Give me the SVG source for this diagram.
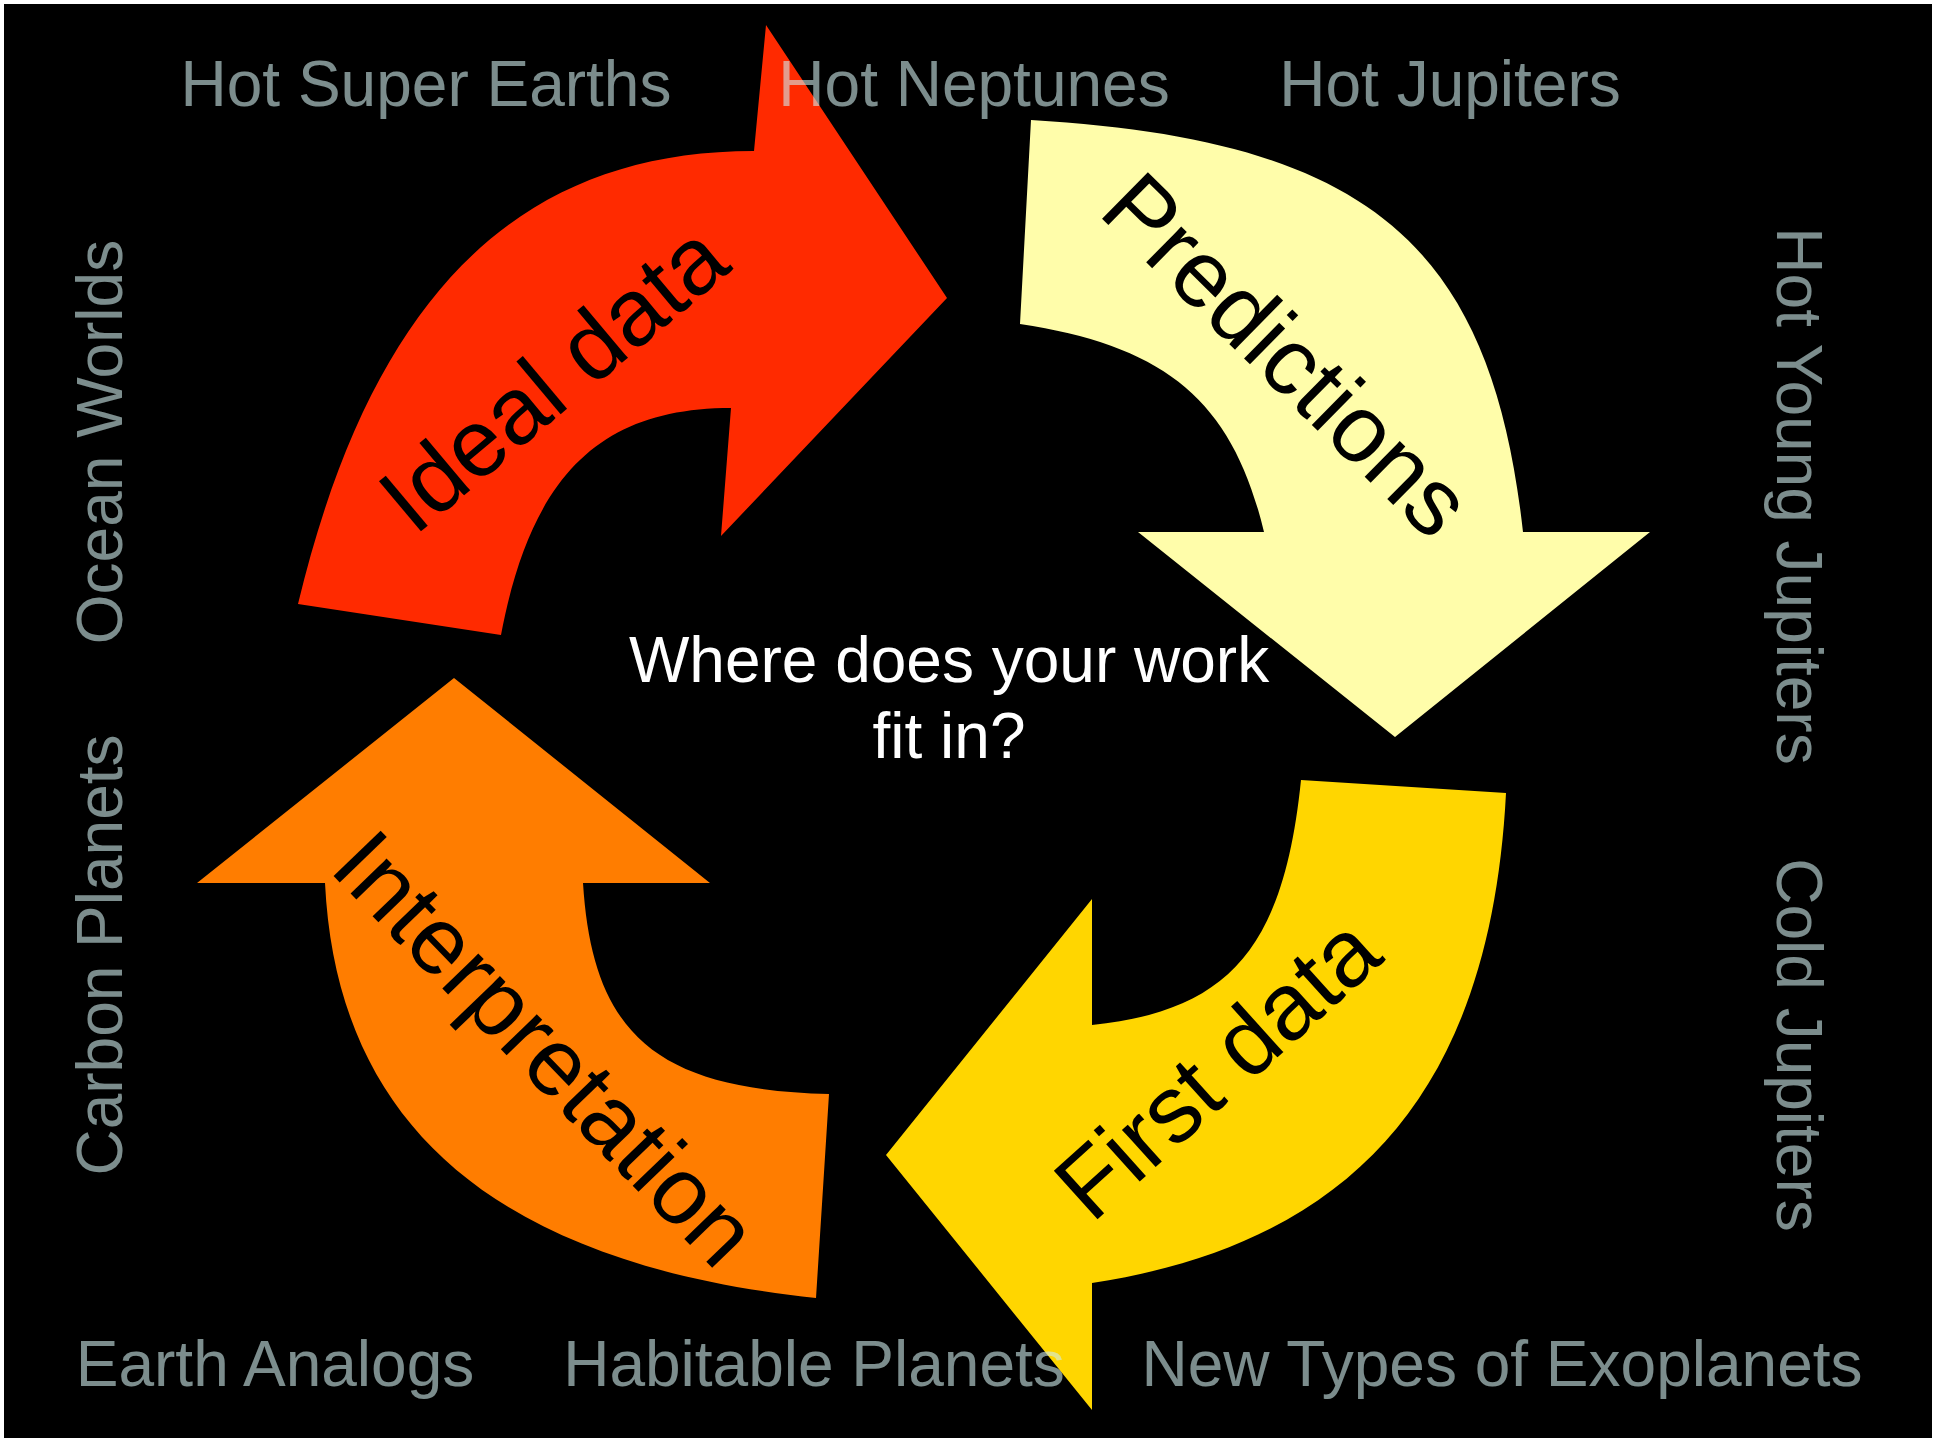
<svg xmlns="http://www.w3.org/2000/svg" width="1936" height="1442" viewBox="0 0 1936 1442">
  <style>
    .side { font-family: "Liberation Sans", Arial, sans-serif; font-size: 64px; fill: #CFEBEB; fill-opacity: 0.6; text-anchor: middle; }
    .center { font-family: "Liberation Sans", Arial, sans-serif; font-size: 64px; fill: #FFFFFF; text-anchor: middle; }
    .lbl { font-family: "Liberation Sans", Arial, sans-serif; font-size: 95px; fill: #000000; text-anchor: middle; }
  </style>
  <rect x="0" y="0" width="1936" height="1442" fill="#FFFFFF"/>
  <rect x="4" y="4" width="1928" height="1434" fill="#000000"/>

  <g id="node-ideal-data">
    <path d="M298,604 C372,296 518,151 754,151 L766,25 L947,298 L721,536 L731,408 C600,408 531,476 501,635 Z" fill="#FF2A00"/>
    <text class="lbl" transform="translate(574,403) rotate(-40)">Ideal data</text>
  </g>

  <g id="node-predictions">
    <path d="M1031,120 C1368,140 1491,243 1523,532 L1650,532 L1395,737 L1138,532 L1264,532 C1233,402 1167,346 1020,324 Z" fill="#FFFDAA"/>
    <text class="lbl" transform="translate(1264,378) rotate(44.5)">Predictions</text>
  </g>

  <g id="node-first-data">
    <path d="M1301,780 L1506,793 C1491,1085 1359,1242 1092,1283 L1092,1410 L886,1155 L1092,899 L1092,1025 C1229,1011 1284,948 1301,780 Z" fill="#FFD600"/>
    <text class="lbl" transform="translate(1239,1092) rotate(-42)">First data</text>
  </g>

  <g id="node-interpretation">
    <path d="M454,678 L710,883 L583,883 C592.6,1034.7 656.6,1089.6 829,1094 L816,1298 C499,1264.5 337,1127.5 325,883 L197,883 Z" fill="#FF7D00"/>
    <text class="lbl" transform="translate(522,1071) rotate(46)">Interpretation</text>
  </g>

  <g id="node-center">
    <text class="center" x="949" y="682">Where does your work</text>
    <text class="center" x="949" y="758">fit in?</text>
  </g>

  <g id="node-categories">
    <text class="side" x="426" y="106">Hot Super Earths</text>
    <text class="side" x="974" y="106">Hot Neptunes</text>
    <text class="side" x="1450" y="106">Hot Jupiters</text>
    <text class="side" transform="translate(122,442) rotate(-90)">Ocean Worlds</text>
    <text class="side" transform="translate(122,955) rotate(-90)">Carbon Planets</text>
    <text class="side" transform="translate(1777,496) rotate(90)">Hot Young Jupiters</text>
    <text class="side" transform="translate(1777,1045) rotate(90)">Cold Jupiters</text>
    <text class="side" x="275" y="1386">Earth Analogs</text>
    <text class="side" x="814" y="1386">Habitable Planets</text>
    <text class="side" x="1502" y="1386">New Types of Exoplanets</text>
  </g>

  <g id="connectors"></g>
</svg>
